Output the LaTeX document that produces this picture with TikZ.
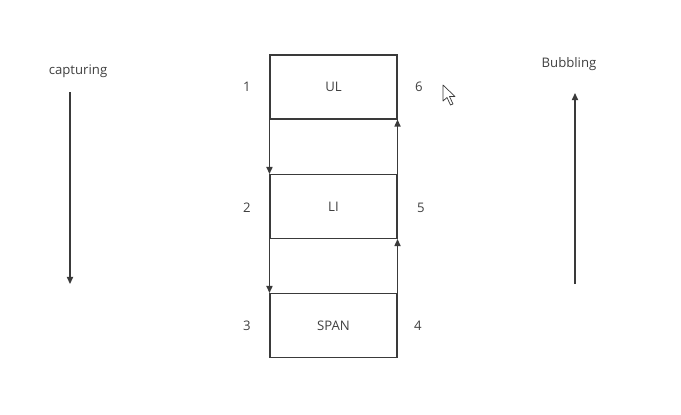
\documentclass[tikz,border=0pt]{standalone}
\usepackage{fontspec}
\setmainfont{Open Sans}
\usetikzlibrary{arrows.meta,positioning}
\definecolor{linegray}{HTML}{3A3A3A}
\definecolor{textgray}{HTML}{404040}
\tikzset{
    level/.style={draw=linegray,line width=0.6pt,minimum width=2.54cm,minimum height=1.28cm,
        inner sep=0pt,text=textgray,font=\fontsize{7.5}{9}\selectfont},
    num/.style={text=textgray,font=\fontsize{7.5}{9}\selectfont,inner sep=1pt},
    flow/.style={draw=linegray,line width=0.7pt,-{Triangle[length=4pt,width=3.5pt]}}
}
\begin{document}
\begin{tikzpicture}[x=0.02cm,y=-0.02cm]
    \useasboundingbox (0,0) rectangle (681,414);
    % the three elements
    \node[level] (ul) at (333.5,87) {UL};
    \node[level] (li) at (333.5,206.5) {LI};
    \node[level] (span) at (333.5,325.5) {SPAN};
    % order numbers
    \node[num] (n1) at (247,87) {1};
    \node[num] (n6) at (419,87) {6};
    \node[num] (n2) at (247,208) {2};
    \node[num] (n5) at (421,208) {5};
    \node[num] (n3) at (247,326) {3};
    \node[num] (n4) at (418,326) {4};
    % down on the left, up on the right
    \draw[flow] (ul.south west) -- (li.north west);
    \draw[flow] (li.south west) -- (span.north west);
    \draw[flow] (span.north east) -- (li.south east);
    \draw[flow] (li.north east) -- (ul.south east);
    % phases
    \node[num] (capt) at (78,71) {capturing};
    \coordinate (capttop) at (70,92);
    \coordinate (captbot) at (70,284);
    \draw[flow] (capttop) -- (captbot);
    \node[num] (bubb) at (569,64) {Bubbling};
    \coordinate (bubbbot) at (575,284);
    \coordinate (bubbtop) at (575,93);
    \draw[flow] (bubbbot) -- (bubbtop);
    % mouse pointer
    \draw[draw=linegray,fill=white,line width=0.4pt,line join=round]
        (443,85) -- (443,101) -- (447,97.5) -- (450.5,105) -- (453,104)
        -- (449.5,96.5) -- (455,96.5) -- cycle;
\end{tikzpicture}
\end{document}
